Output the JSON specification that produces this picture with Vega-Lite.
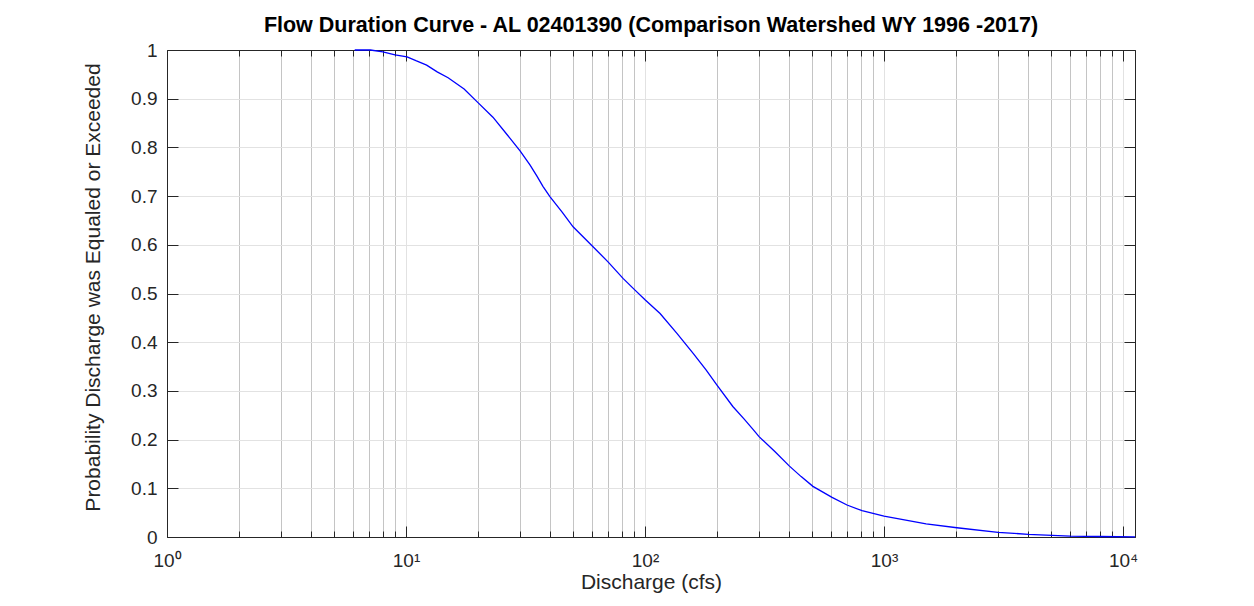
{
  "$schema": "https://vega.github.io/schema/vega-lite/v6.json",
  "width": 968,
  "height": 487,
  "autosize": {"type": "none"},
  "padding": {"left": 167, "top": 50, "right": 119, "bottom": 69},
  "background": "#ffffff",
  "title": {
    "text": "Flow Duration Curve - AL 02401390 (Comparison Watershed WY 1996 -2017)",
    "font": "Liberation Sans",
    "fontSize": 21.5,
    "fontWeight": "bold",
    "color": "#000000",
    "anchor": "middle",
    "offset": 5
  },
  "data": {
    "values": [
      {"Q": 6.1, "P": 1.0},
      {"Q": 7.1, "P": 1.0},
      {"Q": 8.0, "P": 0.996},
      {"Q": 9.0, "P": 0.990},
      {"Q": 10.1, "P": 0.986},
      {"Q": 11.0, "P": 0.978},
      {"Q": 12.2, "P": 0.969},
      {"Q": 13.5, "P": 0.955},
      {"Q": 15.0, "P": 0.943},
      {"Q": 17.5, "P": 0.920},
      {"Q": 20.0, "P": 0.892},
      {"Q": 23.1, "P": 0.862},
      {"Q": 26.5, "P": 0.826},
      {"Q": 30.0, "P": 0.793},
      {"Q": 33.0, "P": 0.764},
      {"Q": 35.3, "P": 0.741},
      {"Q": 37.4, "P": 0.720},
      {"Q": 40.0, "P": 0.699},
      {"Q": 45.0, "P": 0.667},
      {"Q": 50.0, "P": 0.637},
      {"Q": 60.6, "P": 0.596},
      {"Q": 70.0, "P": 0.565},
      {"Q": 80.9, "P": 0.531},
      {"Q": 90.8, "P": 0.507},
      {"Q": 100.0, "P": 0.487},
      {"Q": 115.6, "P": 0.459},
      {"Q": 136.0, "P": 0.418},
      {"Q": 159.0, "P": 0.377},
      {"Q": 180.0, "P": 0.343},
      {"Q": 200.0, "P": 0.312},
      {"Q": 233.0, "P": 0.268},
      {"Q": 260.0, "P": 0.242},
      {"Q": 283.0, "P": 0.221},
      {"Q": 300.0, "P": 0.206},
      {"Q": 350.0, "P": 0.175},
      {"Q": 401.0, "P": 0.146},
      {"Q": 450.0, "P": 0.124},
      {"Q": 504.0, "P": 0.104},
      {"Q": 606.0, "P": 0.0815},
      {"Q": 700.0, "P": 0.0657},
      {"Q": 809.0, "P": 0.054},
      {"Q": 1000.0, "P": 0.043},
      {"Q": 1500.0, "P": 0.027},
      {"Q": 2018.0, "P": 0.019},
      {"Q": 3000.0, "P": 0.0096},
      {"Q": 4010.0, "P": 0.0055},
      {"Q": 6000.0, "P": 0.002},
      {"Q": 8000.0, "P": 0.001},
      {"Q": 11220.0, "P": 0.0003}
    ]
  },
  "layer": [
    {
      "mark": {"type": "line", "color": "#0000ff", "strokeWidth": 1.3, "interpolate": "linear"},
      "encoding": {
        "x": {
          "field": "Q",
          "type": "quantitative",
          "scale": {"type": "log", "domain": [1, 11220], "nice": false},
          "axis": {
            "orient": "bottom",
            "title": "Discharge (cfs)",
            "titleFont": "Liberation Sans",
            "titleFontSize": 21,
            "titleFontWeight": "normal",
            "titleColor": "#262626",
            "titlePadding": -4,
            "values": [1,2,3,4,5,6,7,8,9,10,20,30,40,50,60,70,80,90,100,200,300,400,500,600,700,800,900,1000,2000,3000,4000,5000,6000,7000,8000,9000,10000],
            "labelExpr": "indexof([1,10,100,1000,10000], datum.value) >= 0 ? '10' + ['⁰','¹','²','³','⁴'][round(log(datum.value)/LN10)] : ''",
            "labelFont": "Liberation Sans",
            "labelFontSize": 19,
            "labelColor": "#262626",
            "labelPadding": 25,
            "labelFlush": false,
            "labelOverlap": false,
            "grid": true,
            "gridColor": {"condition": {"test": "indexof([1,10,100,1000,10000], datum.value) >= 0", "value": "#e2e2e2"}, "value": "#c4c4c4"},
            "gridWidth": 1,
            "ticks": true,
            "tickSize": {"condition": {"test": "indexof([1,10,100,1000,10000], datum.value) >= 0", "value": -11}, "value": -6},
            "tickColor": "#262626",
            "domainColor": "#262626"
          }
        },
        "y": {
          "field": "P",
          "type": "quantitative",
          "scale": {"domain": [0, 1], "nice": false},
          "axis": {
            "orient": "left",
            "title": "Probability Discharge was Equaled or Exceeded",
            "titleFont": "Liberation Sans",
            "titleFontSize": 21,
            "titleFontWeight": "normal",
            "titleColor": "#262626",
            "titlePadding": 27,
            "titleY": 237,
            "values": [0, 0.1, 0.2, 0.3, 0.4, 0.5, 0.6, 0.7, 0.8, 0.9, 1],
            "format": "~g",
            "labelFont": "Liberation Sans",
            "labelFontSize": 19,
            "labelColor": "#262626",
            "labelPadding": 21,
            "labelFlush": false,
            "labelOverlap": false,
            "grid": true,
            "gridColor": "#e2e2e2",
            "tickSize": -11,
            "tickColor": "#262626",
            "domainColor": "#262626"
          }
        }
      }
    },
    {
      "mark": {"type": "line", "color": "#0000ff", "strokeWidth": 1.3, "opacity": 0},
      "encoding": {
        "x": {
          "field": "Q",
          "type": "quantitative",
          "scale": {"type": "log", "domain": [1, 11220], "nice": false},
          "axis": {
            "orient": "top",
            "title": null,
            "labels": false,
            "grid": false,
            "values": [1,2,3,4,5,6,7,8,9,10,20,30,40,50,60,70,80,90,100,200,300,400,500,600,700,800,900,1000,2000,3000,4000,5000,6000,7000,8000,9000,10000],
            "tickSize": {"condition": {"test": "indexof([1,10,100,1000,10000], datum.value) >= 0", "value": -11}, "value": -6},
            "tickColor": "#262626",
            "domainColor": "#262626"
          }
        },
        "y": {
          "field": "P",
          "type": "quantitative",
          "scale": {"domain": [0, 1], "nice": false},
          "axis": {
            "orient": "right",
            "title": null,
            "labels": false,
            "grid": false,
            "values": [0, 0.1, 0.2, 0.3, 0.4, 0.5, 0.6, 0.7, 0.8, 0.9, 1],
            "tickSize": -11,
            "tickColor": "#262626",
            "domainColor": "#262626"
          }
        }
      }
    }
  ],
  "resolve": {"axis": {"x": "independent", "y": "independent"}},
  "config": {
    "view": {"stroke": "#262626", "strokeWidth": 1}
  }
}
